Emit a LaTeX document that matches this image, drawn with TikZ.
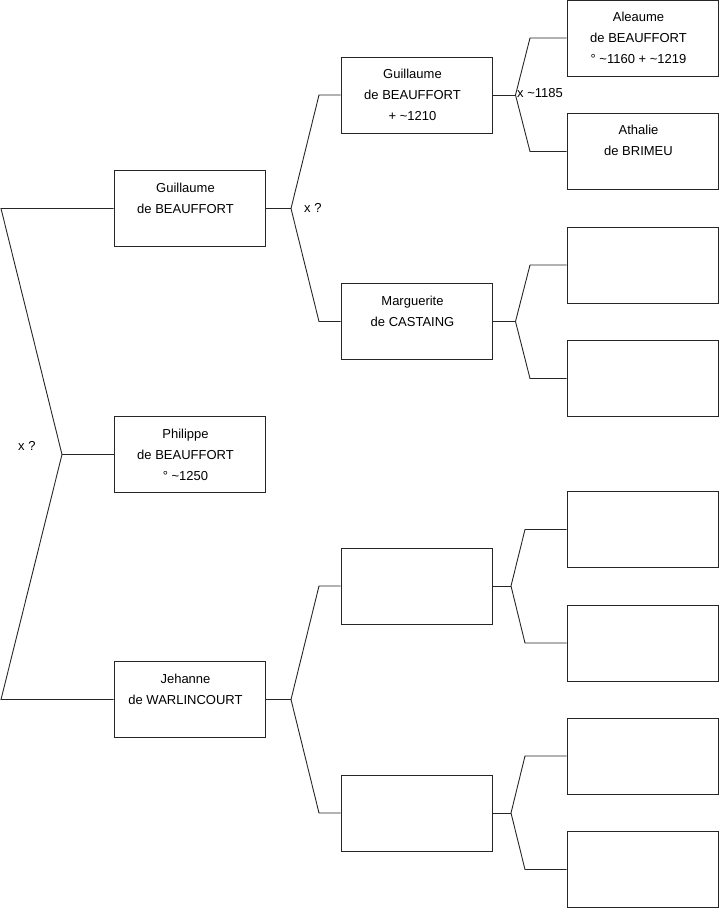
\documentclass[tikz,border=0pt]{standalone}
\usepackage{fontspec}
\setmainfont{Liberation Sans}
\begin{document}
\begin{tikzpicture}[x=1pt,y=-1pt,
  box/.style={draw=black!85, line width=0.9pt, rectangle, minimum width=151pt, minimum height=76pt, inner sep=0pt},
  txt/.style={inner sep=0pt, align=center, font=\fontsize{13}{21}\selectfont},
  ln/.style={line width=0.9pt, draw=black!85},
  lbl/.style={inner sep=0pt, anchor=west, font=\fontsize{13}{15}\selectfont}]
\useasboundingbox (0,0) rectangle (719,908);
% column 1
\node[box] (g1) at (189.5,208.5) {};
\node[box] (p1) at (189.5,454.5) {};
\node[box] (j1) at (189.5,699.5) {};
% column 2
\node[box] (g2) at (416.5,95) {};
\node[box] (m2) at (416.5,321.5) {};
\node[box] (e2a) at (416.5,586) {};
\node[box] (e2b) at (416.5,813) {};
% column 3
\node[box] (a3) at (642.5,38) {};
\node[box] (b3) at (642.5,151.5) {};
\node[box] (c3) at (642.5,265) {};
\node[box] (d3) at (642.5,378.5) {};
\node[box] (e3) at (642.5,529.5) {};
\node[box] (f3) at (642.5,643) {};
\node[box] (g3) at (642.5,756) {};
\node[box] (h3) at (642.5,869.5) {};
% texts
\node[txt] (tg1) at ([xshift=-4pt]g1.center) {Guillaume\\de BEAUFFORT\\\mbox{}};
\node[txt] (tp1) at ([xshift=-4pt]p1.center) {Philippe\\de BEAUFFORT\\° \textasciitilde1250};
\node[txt] (tj1) at ([xshift=-4pt]j1.center) {Jehanne\\de WARLINCOURT\\\mbox{}};
\node[txt] (tg2) at ([xshift=-4pt]g2.center) {Guillaume\\de BEAUFFORT\\+ \textasciitilde1210};
\node[txt] (tm2) at ([xshift=-4pt]m2.center) {Marguerite\\de CASTAING\\\mbox{}};
\node[txt] (ta3) at ([xshift=-4pt]a3.center) {Aleaume\\de BEAUFFORT\\° \textasciitilde1160 + \textasciitilde1219};
\node[txt] (tb3) at ([xshift=-4pt,yshift=1pt]b3.center) {Athalie\\de BRIMEU\\\mbox{}};
% junction coordinates
\coordinate (L0) at (1,208.5);
\coordinate (L1) at (1,699.5);
\coordinate (J0) at (62,454.5);
\coordinate (J1) at (291,208.5);
\coordinate (J2) at (291,699.5);
\coordinate (J3) at (515.5,95);
\coordinate (J4) at (515.5,321.5);
\coordinate (J5) at (511,586);
\coordinate (J6) at (511,813);
% connectors
\draw[ln] (g1.west) -- (L0) -- (J0) -- (L1) -- (j1.west);
\draw[ln] (J0) -- (p1.west);
\draw[ln] (g1.east) -- (J1);
\draw[ln] (g2.west) -- (319,95) -- (J1) -- (319,321.5) -- (m2.west);
\draw[ln] (j1.east) -- (J2);
\draw[ln] (e2a.west) -- (319,586) -- (J2) -- (319,813) -- (e2b.west);
\draw[ln] (g2.east) -- (J3);
\draw[ln] (a3.west) -- (530,38) -- (J3) -- (530,151.5) -- (b3.west);
\draw[ln] (m2.east) -- (J4);
\draw[ln] (c3.west) -- (530,265) -- (J4) -- (530,378.5) -- (d3.west);
\draw[ln] (e2a.east) -- (J5);
\draw[ln] (e3.west) -- (525,529.5) -- (J5) -- (525,643) -- (f3.west);
\draw[ln] (e2b.east) -- (J6);
\draw[ln] (g3.west) -- (525,756) -- (J6) -- (525,869.5) -- (h3.west);
% labels
\node[lbl] (x0) at (18,446) {x ?};
\node[lbl] (x1) at (304,207.5) {x ?};
\node[lbl] (x2) at (517,93) {x \textasciitilde1185};
\end{tikzpicture}
\end{document}
